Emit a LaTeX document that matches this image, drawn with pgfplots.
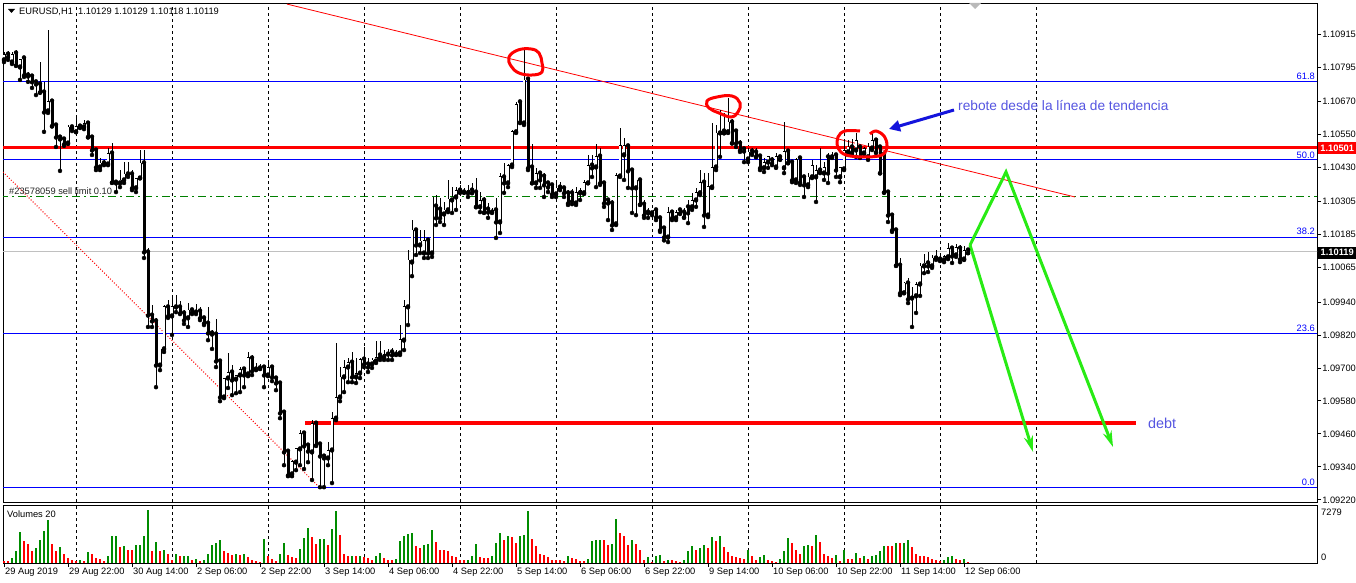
\documentclass[border=0pt]{standalone}
\usepackage{pgfplots}
\pgfplotsset{compat=1.18}
\usepackage{pgfplotstable}
\usepackage{fontspec}
\setmainfont{Liberation Sans}
\usetikzlibrary{arrows.meta}
\definecolor{vgreen}{RGB}{0,140,0}
\definecolor{argreen}{RGB}{40,235,20}
\definecolor{txtblue}{RGB}{85,85,225}
\definecolor{arblue}{RGB}{20,20,220}
\definecolor{slgreen}{RGB}{0,128,0}
\definecolor{fibblue}{RGB}{0,0,255}
\definecolor{bidgray}{RGB}{192,192,192}
\newcommand\mtf{\fontsize{9.3}{11}\selectfont}

\pgfplotstableread{
i o h l c
0 1.10821 1.10850 1.10813 1.10842
1 1.10842 1.10853 1.10821 1.10832
2 1.10813 1.10850 1.10806 1.10842
3 1.10846 1.10857 1.10799 1.10802
4 1.10795 1.10821 1.10748 1.10821
5 1.10828 1.10832 1.10759 1.10766
6 1.10766 1.10777 1.10741 1.10762
7 1.10762 1.10770 1.10719 1.10741
8 1.10741 1.10748 1.10693 1.10733
9 1.10733 1.10813 1.10701 1.10704
10 1.10704 1.10741 1.10559 1.10631
11 1.10635 1.10930 1.10628 1.10671
12 1.10671 1.10675 1.10580 1.10580
13 1.10584 1.10584 1.10504 1.10540
14 1.10540 1.10544 1.10417 1.10533
15 1.10533 1.10540 1.10508 1.10515
16 1.10518 1.10584 1.10515 1.10577
17 1.10577 1.10584 1.10562 1.10573
18 1.10559 1.10610 1.10559 1.10580
19 1.10580 1.10584 1.10573 1.10577
20 1.10577 1.10602 1.10569 1.10591
21 1.10591 1.10595 1.10540 1.10540
22 1.10540 1.10540 1.10475 1.10493
23 1.10493 1.10493 1.10420 1.10431
24 1.10431 1.10464 1.10420 1.10446
25 1.10446 1.10457 1.10438 1.10442
26 1.10442 1.10500 1.10438 1.10482
27 1.10482 1.10518 1.10373 1.10376
28 1.10376 1.10384 1.10340 1.10373
29 1.10373 1.10420 1.10358 1.10384
30 1.10384 1.10449 1.10373 1.10406
31 1.10406 1.10449 1.10395 1.10409
32 1.10406 1.10420 1.10347 1.10355
33 1.10355 1.10391 1.10340 1.10391
34 1.10391 1.10493 1.10391 1.10446
35 1.10446 1.10493 1.10100 1.10122
36 1.10122 1.10136 1.09849 1.09892
37 1.09892 1.09929 1.09849 1.09871
38 1.09871 1.09882 1.09630 1.09710
39 1.09710 1.09769 1.09692 1.09769
40 1.09769 1.09929 1.09758 1.09922
41 1.09922 1.09947 1.09882 1.09889
42 1.09889 1.09965 1.09820 1.09922
43 1.09922 1.09965 1.09903 1.09921
44 1.09922 1.09943 1.09896 1.09900
45 1.09900 1.09911 1.09860 1.09874
46 1.09882 1.09936 1.09849 1.09911
47 1.09911 1.09918 1.09896 1.09903
48 1.09903 1.09932 1.09896 1.09907
49 1.09907 1.09922 1.09874 1.09882
50 1.09882 1.09889 1.09856 1.09863
51 1.09863 1.09922 1.09801 1.09827
52 1.09827 1.09838 1.09769 1.09823
53 1.09823 1.09878 1.09703 1.09725
54 1.09725 1.09729 1.09579 1.09594
55 1.09594 1.09663 1.09590 1.09663
56 1.09663 1.09754 1.09627 1.09685
57 1.09685 1.09710 1.09601 1.09656
58 1.09659 1.09674 1.09608 1.09674
59 1.09674 1.09703 1.09612 1.09696
60 1.09696 1.09700 1.09630 1.09674
61 1.09678 1.09758 1.09670 1.09739
62 1.09736 1.09747 1.09674 1.09689
63 1.09696 1.09718 1.09692 1.09700
64 1.09700 1.09714 1.09696 1.09698
65 1.09703 1.09707 1.09630 1.09674
66 1.09674 1.09729 1.09670 1.09703
67 1.09703 1.09710 1.09652 1.09667
68 1.09663 1.09670 1.09619 1.09645
69 1.09645 1.09648 1.09517 1.09536
70 1.09539 1.09543 1.09346 1.09394
71 1.09397 1.09401 1.09306 1.09310
72 1.09314 1.09365 1.09306 1.09361
73 1.09357 1.09408 1.09328 1.09408
74 1.09405 1.09474 1.09346 1.09463
75 1.09463 1.09466 1.09332 1.09416
76 1.09419 1.09426 1.09357 1.09397
77 1.09394 1.09510 1.09292 1.09499
78 1.09499 1.09507 1.09416 1.09419
79 1.09423 1.09430 1.09266 1.09379
80 1.09379 1.09386 1.09266 1.09372
81 1.09372 1.09430 1.09346 1.09401
82 1.09401 1.09539 1.09281 1.09517
83 1.09517 1.09790 1.09510 1.09594
84 1.09594 1.09703 1.09579 1.09667
85 1.09667 1.09729 1.09612 1.09703
86 1.09703 1.09736 1.09648 1.09721
87 1.09721 1.09758 1.09648 1.09667
88 1.09667 1.09736 1.09645 1.09681
89 1.09681 1.09736 1.09663 1.09732
90 1.09732 1.09776 1.09703 1.09714
91 1.09714 1.09736 1.09685 1.09703
92 1.09714 1.09736 1.09700 1.09729
93 1.09725 1.09798 1.09718 1.09739
94 1.09747 1.09798 1.09729 1.09739
95 1.09739 1.09765 1.09729 1.09750
96 1.09750 1.09769 1.09729 1.09758
97 1.09758 1.09772 1.09729 1.09747
98 1.09750 1.09765 1.09747 1.09754
99 1.09754 1.09856 1.09747 1.09805
100 1.09801 1.09947 1.09765 1.09922
101 1.09922 1.10129 1.09856 1.10093
102 1.10085 1.10238 1.10034 1.10202
103 1.10202 1.10202 1.10111 1.10147
104 1.10147 1.10202 1.10118 1.10162
105 1.10118 1.10202 1.10100 1.10165
106 1.10165 1.10173 1.10100 1.10118
107 1.10118 1.10322 1.10104 1.10322
108 1.10289 1.10329 1.10220 1.10246
109 1.10278 1.10318 1.10231 1.10246
110 1.10260 1.10304 1.10220 1.10275
111 1.10275 1.10384 1.10267 1.10315
112 1.10311 1.10358 1.10264 1.10322
113 1.10322 1.10358 1.10275 1.10347
114 1.10347 1.10366 1.10337 1.10340
115 1.10340 1.10355 1.10337 1.10344
116 1.10337 1.10366 1.10322 1.10347
117 1.10347 1.10373 1.10337 1.10337
118 1.10340 1.10391 1.10286 1.10286
119 1.10286 1.10340 1.10267 1.10311
120 1.10311 1.10322 1.10264 1.10267
121 1.10278 1.10300 1.10246 1.10267
122 1.10267 1.10282 1.10264 1.10275
123 1.10275 1.10318 1.10173 1.10231
124 1.10231 1.10409 1.10191 1.10398
125 1.10395 1.10446 1.10337 1.10373
126 1.10373 1.10442 1.10358 1.10438
127 1.10438 1.10566 1.10431 1.10562
128 1.10559 1.10668 1.10555 1.10660
129 1.10668 1.10675 1.10591 1.10595
130 1.10591 1.10857 1.10584 1.10748
131 1.10751 1.10751 1.10420 1.10428
132 1.10431 1.10515 1.10373 1.10373
133 1.10373 1.10428 1.10355 1.10409
134 1.10409 1.10413 1.10355 1.10384
135 1.10398 1.10409 1.10322 1.10366
136 1.10373 1.10376 1.10340 1.10358
137 1.10366 1.10369 1.10322 1.10333
138 1.10333 1.10384 1.10322 1.10355
139 1.10358 1.10376 1.10347 1.10355
140 1.10355 1.10358 1.10322 1.10337
141 1.10337 1.10347 1.10293 1.10300
142 1.10337 1.10351 1.10296 1.10307
143 1.10300 1.10358 1.10293 1.10337
144 1.10337 1.10355 1.10311 1.10347
145 1.10337 1.10384 1.10333 1.10376
146 1.10373 1.10475 1.10373 1.10438
147 1.10438 1.10475 1.10395 1.10428
148 1.10431 1.10515 1.10358 1.10471
149 1.10471 1.10500 1.10366 1.10373
150 1.10373 1.10376 1.10286 1.10300
151 1.10311 1.10315 1.10238 1.10300
152 1.10300 1.10311 1.10202 1.10220
153 1.10224 1.10409 1.10220 1.10402
154 1.10398 1.10573 1.10395 1.10508
155 1.10475 1.10537 1.10384 1.10508
156 1.10508 1.10508 1.10355 1.10417
157 1.10420 1.10420 1.10264 1.10355
158 1.10355 1.10384 1.10256 1.10384
159 1.10384 1.10384 1.10293 1.10296
160 1.10296 1.10311 1.10246 1.10256
161 1.10267 1.10282 1.10246 1.10264
162 1.10264 1.10275 1.10256 1.10275
163 1.10275 1.10282 1.10238 1.10249
164 1.10246 1.10249 1.10195 1.10202
165 1.10209 1.10213 1.10164 1.10176
166 1.10176 1.10286 1.10158 1.10267
167 1.10267 1.10275 1.10238 1.10246
168 1.10246 1.10275 1.10238 1.10267
169 1.10275 1.10282 1.10260 1.10264
170 1.10267 1.10282 1.10246 1.10249
171 1.10286 1.10311 1.10227 1.10264
172 1.10286 1.10337 1.10275 1.10311
173 1.10311 1.10355 1.10286 1.10337
174 1.10337 1.10420 1.10329 1.10376
175 1.10376 1.10409 1.10213 1.10256
176 1.10256 1.10409 1.10249 1.10362
177 1.10358 1.10591 1.10355 1.10431
178 1.10431 1.10584 1.10420 1.10555
179 1.10555 1.10639 1.10468 1.10559
180 1.10562 1.10628 1.10555 1.10555
181 1.10559 1.10682 1.10555 1.10595
182 1.10595 1.10606 1.10518 1.10518
183 1.10562 1.10566 1.10504 1.10518
184 1.10518 1.10529 1.10486 1.10493
185 1.10497 1.10500 1.10449 1.10489
186 1.10460 1.10500 1.10449 1.10486
187 1.10489 1.10500 1.10475 1.10482
188 1.10486 1.10500 1.10468 1.10468
189 1.10471 1.10475 1.10420 1.10428
190 1.10428 1.10464 1.10413 1.10449
191 1.10449 1.10471 1.10428 1.10468
192 1.10457 1.10468 1.10438 1.10446
193 1.10431 1.10482 1.10428 1.10468
194 1.10468 1.10475 1.10457 1.10460
195 1.10428 1.10595 1.10409 1.10489
196 1.10489 1.10493 1.10446 1.10446
197 1.10449 1.10457 1.10376 1.10384
198 1.10384 1.10464 1.10373 1.10457
199 1.10464 1.10468 1.10366 1.10376
200 1.10395 1.10402 1.10322 1.10366
201 1.10366 1.10409 1.10358 1.10395
202 1.10395 1.10457 1.10391 1.10438
203 1.10395 1.10438 1.10304 1.10420
204 1.10420 1.10500 1.10409 1.10413
205 1.10409 1.10449 1.10384 1.10428
206 1.10468 1.10482 1.10373 1.10409
207 1.10468 1.10486 1.10464 1.10475
208 1.10475 1.10482 1.10395 1.10420
209 1.10395 1.10431 1.10376 1.10428
210 1.10424 1.10529 1.10420 1.10493
211 1.10486 1.10529 1.10475 1.10504
212 1.10504 1.10533 1.10478 1.10486
213 1.10493 1.10555 1.10468 1.10529
214 1.10504 1.10511 1.10464 1.10468
215 1.10482 1.10504 1.10478 1.10500
216 1.10468 1.10518 1.10457 1.10504
217 1.10500 1.10555 1.10493 1.10529
218 1.10529 1.10537 1.10482 1.10486
219 1.10504 1.10511 1.10409 1.10409
220 1.10478 1.10482 1.10337 1.10340
221 1.10340 1.10340 1.10231 1.10256
222 1.10256 1.10264 1.10195 1.10202
223 1.10202 1.10202 1.10071 1.10074
224 1.10074 1.10100 1.09965 1.09973
225 1.09973 1.10013 1.09973 1.10009
226 1.10009 1.10027 1.09936 1.09951
227 1.09954 1.09994 1.09849 1.09962
228 1.09962 1.10013 1.09900 1.10005
229 1.10005 1.10082 1.09962 1.10071
230 1.10071 1.10114 1.10045 1.10082
231 1.10082 1.10122 1.10049 1.10071
232 1.10071 1.10111 1.10064 1.10100
233 1.10100 1.10129 1.10093 1.10104
234 1.10096 1.10107 1.10089 1.10093
235 1.10093 1.10111 1.10085 1.10104
236 1.10104 1.10155 1.10096 1.10136
237 1.10136 1.10144 1.10082 1.10107
238 1.10111 1.10151 1.10104 1.10140
239 1.10136 1.10147 1.10085 1.10096
240 1.10096 1.10144 1.10093 1.10129
241 1.10129 1.10129 1.10118 1.10119
}\candles

\pgfplotstableread{
i v g
0 226 0
1 226 0
2 678 1
3 1582 1
4 4204 1
5 2983 0
6 2622 0
7 1627 0
8 2034 1
9 3074 1
10 4294 1
11 5786 1
12 2622 0
13 1627 0
14 2170 1
15 1175 0
16 678 0
17 362 0
18 226 0
19 452 1
20 226 0
21 1492 1
22 1175 0
23 723 0
24 497 0
25 271 0
26 904 1
27 3661 1
28 3700 1
29 2170 0
30 2305 1
31 1808 0
32 1750 0
33 2396 1
34 2441 1
35 3616 1
36 7279 1
37 1582 0
38 2893 1
39 1582 0
40 1808 1
41 1175 0
42 362 0
43 1266 1
44 949 0
45 960 1
46 980 1
47 452 0
48 497 1
49 226 0
50 452 1
51 1175 1
52 2486 1
53 2757 1
54 3074 1
55 1582 0
56 1401 0
57 1130 0
58 1175 1
59 1150 0
60 1266 1
61 814 0
62 362 0
63 226 0
64 136 0
65 3209 1
66 904 0
67 497 0
68 316 0
69 1266 1
70 2712 1
71 1130 0
72 814 0
73 723 0
74 1853 1
75 3390 1
76 4746 1
77 3526 0
78 2622 0
79 3209 1
80 3250 1
81 2486 0
82 4565 1
83 7142 1
84 3797 0
85 1266 0
86 949 0
87 960 1
88 940 0
89 970 1
90 814 0
91 723 0
92 362 0
93 949 1
94 1356 1
95 678 0
96 362 0
97 362 0
98 588 1
99 2983 1
100 3661 1
101 3978 1
102 4023 1
103 2305 0
104 2079 0
105 2486 1
106 2622 1
107 4430 1
108 2848 0
109 1808 0
110 1718 0
111 1582 0
112 904 0
113 880 0
114 362 0
115 362 0
116 452 1
117 904 1
118 2576 1
119 814 0
120 723 0
121 678 0
122 904 1
123 2757 1
124 4113 1
125 3074 0
126 3616 1
127 3600 0
128 2712 0
129 3616 1
130 3842 1
131 7142 1
132 3300 0
133 2260 0
134 1266 0
135 1040 0
136 814 0
137 362 0
138 362 0
139 362 0
140 226 0
141 904 1
142 678 0
143 497 0
144 271 0
145 226 0
146 588 1
147 2938 1
148 3074 1
149 3164 1
150 3120 0
151 2486 0
152 2622 1
153 5921 1
154 4068 0
155 3661 0
156 2486 0
157 3164 1
158 2622 0
159 1718 0
160 362 0
161 814 1
162 136 0
163 904 1
164 1040 1
165 226 0
166 452 1
167 452 0
168 226 0
169 200 0
170 362 1
171 1627 1
172 2305 1
173 1718 0
174 2034 1
175 2486 1
176 2034 0
177 3526 1
178 2983 0
179 3661 1
180 2170 0
181 1492 0
182 904 0
183 814 0
184 723 0
185 588 0
186 1718 1
187 904 0
188 452 0
189 814 1
190 1040 1
191 362 0
192 226 0
193 200 0
194 497 1
195 1627 1
196 3390 1
197 2712 0
198 1718 0
199 1266 0
200 2305 1
201 2396 1
202 2260 0
203 3752 1
204 2848 0
205 1266 0
206 949 0
207 723 0
208 1040 1
209 226 0
210 1718 1
211 497 0
212 480 0
213 1356 1
214 678 0
215 904 1
216 497 0
217 904 1
218 1040 1
219 1627 1
220 2305 1
221 2280 0
222 2260 0
223 2712 1
224 2680 0
225 2757 1
226 3164 1
227 2170 0
228 1266 0
229 949 0
230 904 0
231 814 0
232 588 0
233 452 0
234 226 0
235 362 1
236 814 1
237 904 1
238 588 0
239 362 0
240 497 1
241 136 0
}\vol

\begin{document}
\begin{tikzpicture}
\useasboundingbox (0,0) rectangle (1356pt,-583pt);
\fill[white] (0,0) rectangle (1356pt,-583pt);

% ---------------- main price panel ----------------
\begin{axis}[
  at={(3pt,-502pt)}, anchor=south west,
  scale only axis, width=1314pt, height=499pt,
  xmin=-0.25, xmax=328.25, ymin=1.09212, ymax=1.11028,
  axis background/.style={fill=white},
  axis line style={black, line width=0.8pt},
  xtick=\empty,
  extra x ticks={18,42,66,90,114,138,162,186,210,234,258},
  extra x tick labels={,,,,,,,,,,},
  extra x tick style={grid=major, major tick length=0pt},
  major grid style={black, line width=0.8pt, dash pattern=on 3pt off 3pt},
  ytick={1.10915,1.10795,1.10670,1.10550,1.10430,1.10305,1.10185,1.10065,1.09940,1.09820,1.09700,1.09580,1.09460,1.09340,1.09220},
  yticklabels={1.10915,1.10795,1.10670,1.10550,1.10430,1.10305,1.10185,1.10065,1.09940,1.09820,1.09700,1.09580,1.09460,1.09340,1.09220},
  ytick pos=right, yticklabel pos=right,
  scaled y ticks=false,
  tick align=outside, major tick length=4pt,
  tick style={black, line width=0.8pt},
  yticklabel style={font=\mtf, anchor=west, inner sep=0pt, xshift=1pt},
]
% horizontal objects (behind the candles)
\addplot[draw=bidgray, solid, line width=1pt, forget plot] coordinates {(-1,1.10122) (330,1.10122)};
\addplot[draw=fibblue, solid, line width=1pt, forget plot] coordinates {(-1,1.10741) (330,1.10741)};
\addplot[draw=fibblue, solid, line width=1pt, forget plot] coordinates {(-1,1.10457) (330,1.10457)};
\addplot[draw=fibblue, solid, line width=1pt, forget plot] coordinates {(-1,1.10176) (330,1.10176)};
\addplot[draw=fibblue, solid, line width=1pt, forget plot] coordinates {(-1,1.09827) (330,1.09827)};
\addplot[draw=fibblue, solid, line width=1pt, forget plot] coordinates {(-1,1.09263) (330,1.09263)};
\addplot[draw=slgreen, line width=1pt, dash pattern=on 8pt off 4pt on 2pt off 4pt, forget plot] coordinates {(-1,1.10322) (330,1.10322)};
\addplot[draw=red, solid, line width=3pt, forget plot] coordinates {(-1,1.10501) (330,1.10501)};
\addplot[draw=red, solid, line width=4pt, forget plot] coordinates {(75.25,1.09499) (283,1.09499)};
\addplot[draw=red, solid, line width=0.8pt, forget plot] coordinates {(70.75,1.11024) (267.75,1.10322)};
\addplot[draw=red, line width=1pt, dash pattern=on 1pt off 1.8pt, forget plot] coordinates {(-0.25,1.10413) (79,1.09263)};

% wicks
\addplot[only marks, mark=none, forget plot,
  error bars/.cd, y dir=plus, y explicit, error mark=none,
  error bar style={draw=black, solid, line width=1pt}]
  table[x=i, y=l, y error expr=\thisrow{h}-\thisrow{l}] {\candles};
% bodies (black)
\addplot[only marks, mark=none, forget plot,
  error bars/.cd, y dir=plus, y explicit, error mark=none,
  error bar style={draw=black, solid, line width=3pt}]
  table[x=i, y expr={min(\thisrow{o},\thisrow{c})-0.000015}, y error expr={abs(\thisrow{c}-\thisrow{o})+0.00003}] {\candles};
% bull interiors (white)
\addplot[only marks, mark=none, forget plot,
  error bars/.cd, y dir=plus, y explicit, error mark=none,
  error bar style={draw=white, solid, line width=1.1pt}]
  table[x=i, y expr={\thisrow{o}+0.000018}, y error expr={max(\thisrow{c}-\thisrow{o}-0.000036,0)}] {\candles};

% green projections
\addplot[draw=argreen, solid, line width=3pt, -{Stealth[length=16pt,width=9pt]}, forget plot] coordinates {(241.5,1.10147) (250.5,1.10413) (277.25,1.09412)};
\addplot[draw=argreen, solid, line width=3pt, -{Stealth[length=16pt,width=9pt]}, forget plot] coordinates {(241.5,1.10147) (257.25,1.09394)};
\end{axis}

% ---------------- volume panel ----------------
\begin{axis}[
  at={(3pt,-563pt)}, anchor=south west,
  scale only axis, width=1314pt, height=58pt,
  xmin=-0.25, xmax=328.25, ymin=0, ymax=7891,
  axis background/.style={fill=white},
  axis line style={black, line width=0.8pt},
  ytick=\empty,
  xtick={0,16,...,240},
  xticklabels={29 Aug 2019,29 Aug 22:00,30 Aug 14:00,2 Sep 06:00,2 Sep 22:00,3 Sep 14:00,4 Sep 06:00,4 Sep 22:00,5 Sep 14:00,6 Sep 06:00,6 Sep 22:00,9 Sep 14:00,10 Sep 06:00,10 Sep 22:00,11 Sep 14:00,12 Sep 06:00},
  xtick pos=bottom, tick align=outside, major tick length=4pt,
  tick style={black, line width=0.8pt},
  xticklabel style={font=\mtf, anchor=north west, inner sep=1pt},
  extra x ticks={18,42,66,90,114,138,162,186,210,234,258},
  extra x tick labels={,,,,,,,,,,},
  extra x tick style={grid=major, major tick length=0pt},
  major grid style={black, line width=0.8pt, dash pattern=on 3pt off 3pt},
]
\addplot[ycomb, draw=vgreen, line width=1.3pt, mark=none] table[x=i, y expr=\thisrow{v}*\thisrow{g}] {\vol};
\addplot[ycomb, draw=red, line width=1.3pt, mark=none] table[x=i, y expr=\thisrow{v}*(1-\thisrow{g})] {\vol};
\end{axis}

% ---------------- annotations (pixel coordinates) ----------------
\begin{scope}[x=1pt, y=-1pt]
\draw[black, line width=0.8pt] (3,505) -- (1317,505);
% header
\fill[black] (8,9) -- (15,9) -- (11.5,13) -- cycle;
\node[anchor=west, font=\mtf, inner sep=0] at (19,12) {EURUSD,H1\ \ 1.10129 1.10129 1.10118 1.10119};
\fill[gray!55] (969,3) -- (981,3) -- (975,9) -- cycle;
% order label
\node[anchor=west, font=\mtf, inner sep=0, text=black!85] at (9,191.5) {\#23578059 sell limit 0.10};
% fib labels
\node[anchor=east, font=\mtf, inner sep=0, text=fibblue] at (1315,76.5) {61.8};
\node[anchor=east, font=\mtf, inner sep=0, text=fibblue] at (1315,155) {50.0};
\node[anchor=east, font=\mtf, inner sep=0, text=fibblue] at (1315,231.5) {38.2};
\node[anchor=east, font=\mtf, inner sep=0, text=fibblue] at (1315,328.5) {23.6};
\node[anchor=east, font=\mtf, inner sep=0, text=fibblue] at (1315,482.5) {0.0};
% hand drawn circles
\draw[red, line width=3pt] plot[smooth cycle, tension=0.7] coordinates {(509,57) (518,50) (531,49) (539,53) (542,63) (542,72) (532,75) (519,73) (511,66)};
\draw[red, line width=3pt] plot[smooth cycle, tension=0.7] coordinates {(707,101) (717,97) (732,96) (740,103) (738,112) (731,117) (719,113) (709,108)};
\draw[red, line width=3pt] plot[smooth, tension=0.6] coordinates {(860,131) (845,131) (838,137) (838,148) (846,155) (864,157) (882,155) (887,146) (884,136) (876,131) (870,134)};
% blue arrow + text
\draw[arblue, line width=3pt, -{Triangle[length=11pt,width=11pt]}] (954,110) -- (889,129);
\node[anchor=west, inner sep=0, text=txtblue, font=\fontsize{13.7}{15}\selectfont] at (958,106) {rebote desde la línea de tendencia};
\node[anchor=west, inner sep=0, text=txtblue, font=\fontsize{14.4}{16}\selectfont] at (1148,423) {debt};
% price boxes on the right
\node[fill=red, text=white, inner sep=0, minimum width=38pt, minimum height=12pt, anchor=west, font=\mtf\bfseries] at (1318,148) {1.10501};
\node[fill=black, text=white, inner sep=0, minimum width=38pt, minimum height=12pt, anchor=west, font=\mtf\bfseries] at (1318,252.5) {1.10119};
% volume labels
\node[anchor=west, font=\mtf, inner sep=0] at (7,514) {Volumes 20};
\node[anchor=west, font=\mtf, inner sep=0] at (1321,512) {7279};
\node[anchor=west, font=\mtf, inner sep=0] at (1321,557) {0};
\end{scope}
\end{tikzpicture}
\end{document}
